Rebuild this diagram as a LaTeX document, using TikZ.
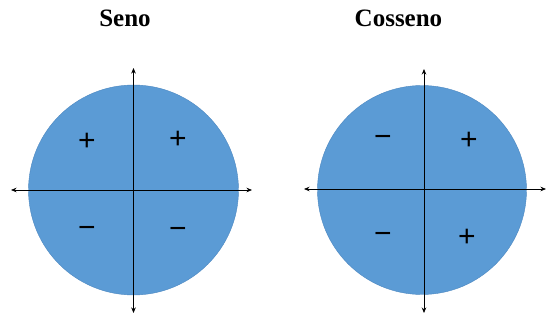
\documentclass[tikz,border=0pt]{standalone}
\usepackage{fontspec}
\usetikzlibrary{arrows.meta}
\setmainfont{Liberation Serif}
\newfontfamily\signfont{Liberation Sans}
\definecolor{circblue}{HTML}{5B9BD5}
\definecolor{circedge}{HTML}{4C87C0}
\tikzset{
    titulo/.style={font=\bfseries\fontsize{25}{30}\selectfont},
    sinal/.style={font=\signfont\fontsize{30}{32}\selectfont, inner sep=0pt},
    eixo/.style={<->, line width=0.7pt},
}
\newcommand{\menos}{\char"2212}
\begin{document}
\begin{tikzpicture}[>={Stealth[length=5.5pt,width=4.5pt]}, x=1pt, y=-1pt]
    \useasboundingbox (0,0) rectangle (555,321);

    % seno
    \node[titulo] (seno) at (125,18) {Seno};
    \filldraw[fill=circblue, draw=circedge] (133.5,190) circle (105);
    \draw[eixo] (11,190) -- (252,190);
    \draw[eixo] (133.5,68) -- (133.5,313);
    \node[sinal] (s1) at (178,140) {+};
    \node[sinal] (s2) at (87,142) {+};
    \node[sinal] (s3) at (87,232) {\menos};
    \node[sinal] (s4) at (178,233) {\menos};

    % cosseno
    \node[titulo] (cosseno) at (398.5,18) {Cosseno};
    \filldraw[fill=circblue, draw=circedge] (422,190) circle (104.5);
    \draw[eixo] (304,189) -- (546,189);
    \draw[eixo] (424,69) -- (424,313);
    \node[sinal] (c1) at (469,141) {+};
    \node[sinal] (c2) at (383,141) {\menos};
    \node[sinal] (c3) at (383,238) {\menos};
    \node[sinal] (c4) at (467,238) {+};
\end{tikzpicture}
\end{document}
